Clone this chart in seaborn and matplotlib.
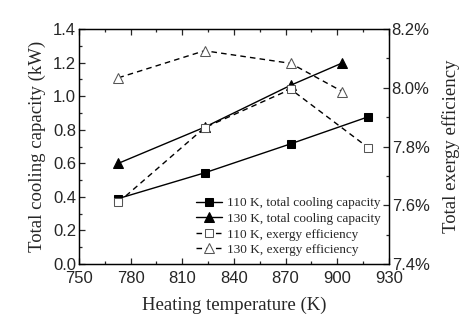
import matplotlib
matplotlib.use("Agg")
import matplotlib.pyplot as plt
import seaborn as sns
import pandas as pd
from matplotlib.ticker import MultipleLocator, FuncFormatter

sns.set_style("ticks")
plt.rcParams["font.family"] = ["Liberation Sans", "DejaVu Sans"]

# Heating temperatures (K)
temp_110 = [773, 823, 873, 918]
temp_130 = [773, 823, 873, 903]

# Total cooling capacity (kW)
cap_110 = [0.39, 0.543, 0.716, 0.877]
cap_130 = [0.60, 0.815, 1.065, 1.198]

# Total exergy efficiency (%)
ex_110 = [7.61, 7.864, 7.995, 7.796]
ex_130 = [8.034, 8.126, 8.083, 7.987]

labels = ["110 K, total cooling capacity", "130 K, total cooling capacity",
          "110 K, exergy efficiency", "130 K, exergy efficiency"]

fig = plt.figure(figsize=(4.72, 3.31), dpi=100)
ax = fig.add_axes([0.167, 0.2024, 0.657, 0.71])
ax2 = ax.twinx()

serif = ["Liberation Serif", "DejaVu Serif"]

df_cap = pd.DataFrame({"T": temp_110 + temp_130,
                       "v": cap_110 + cap_130,
                       "s": [labels[0]] * 4 + [labels[1]] * 4})
df_ex = pd.DataFrame({"T": temp_110 + temp_130,
                      "v": ex_110 + ex_130,
                      "s": [labels[2]] * 4 + [labels[3]] * 4})

sns.lineplot(data=df_cap[df_cap.s == labels[0]], x="T", y="v", ax=ax,
             color="black", lw=1.0, marker="s", markersize=5.5,
             markerfacecolor="black", markeredgecolor="black", label=labels[0],
             legend=False)
sns.lineplot(data=df_cap[df_cap.s == labels[1]], x="T", y="v", ax=ax,
             color="black", lw=1.0, marker="^", markersize=7,
             markerfacecolor="black", markeredgecolor="black", label=labels[1],
             legend=False)
sns.lineplot(data=df_ex[df_ex.s == labels[2]], x="T", y="v", ax=ax2,
             color="black", lw=1.0, marker="s", markersize=5.5, dashes=(4, 3),
             markerfacecolor="white", markeredgecolor="#555555", label=labels[2],
             legend=False)
sns.lineplot(data=df_ex[df_ex.s == labels[3]], x="T", y="v", ax=ax2,
             color="black", lw=1.0, marker="^", markersize=7.5, dashes=(4, 3),
             markerfacecolor="white", markeredgecolor="#555555", label=labels[3],
             legend=False)

ax.set_xlim(750, 930)
ax.set_ylim(0, 1.4)
ax2.set_ylim(7.4, 8.2)

ax.xaxis.set_major_locator(MultipleLocator(30))
ax.xaxis.set_minor_locator(MultipleLocator(15))
ax.yaxis.set_major_locator(MultipleLocator(0.2))
ax.yaxis.set_minor_locator(MultipleLocator(0.1))
ax.yaxis.set_major_formatter(FuncFormatter(lambda v, p: f"{v:.1f}"))
ax2.yaxis.set_major_locator(MultipleLocator(0.2))
ax2.yaxis.set_minor_locator(MultipleLocator(0.1))
ax2.yaxis.set_major_formatter(FuncFormatter(lambda v, p: f"{v:.1f}%"))

ax.tick_params(which="both", direction="in", top=True, right=False,
               labelsize=12, width=0.9)
ax.tick_params(axis="x", pad=5)
ax.tick_params(axis="y", pad=2)
ax.tick_params(which="major", length=4)
ax.tick_params(which="minor", length=2.5)
ax2.tick_params(which="both", direction="in", labelsize=12, pad=2, width=0.9)
ax2.tick_params(which="major", length=4)
ax2.tick_params(which="minor", length=2.5)

for a in (ax, ax2):
    for sp in a.spines.values():
        sp.set_visible(True)
        sp.set_linewidth(0.9)
        sp.set_color("black")

ax.set_xlabel("Heating temperature (K)", family=serif, fontsize=13.5, labelpad=8)
ax.set_ylabel("Total cooling capacity (kW)", family=serif, fontsize=13.5, labelpad=5)
ax2.set_ylabel("Total exergy efficiency", family=serif, fontsize=13.5, labelpad=9)

h1, l1 = ax.get_legend_handles_labels()
h2, l2 = ax2.get_legend_handles_labels()
leg = ax2.legend(h1 + h2, l1 + l2, loc="lower right", frameon=False,
                 prop={"family": serif, "size": 9.5}, handlelength=2.0,
                 handletextpad=0.4, labelspacing=0.25, borderaxespad=0.2,
                 bbox_to_anchor=(1.0, 0.0))

fig.savefig("out.png", dpi=100)
